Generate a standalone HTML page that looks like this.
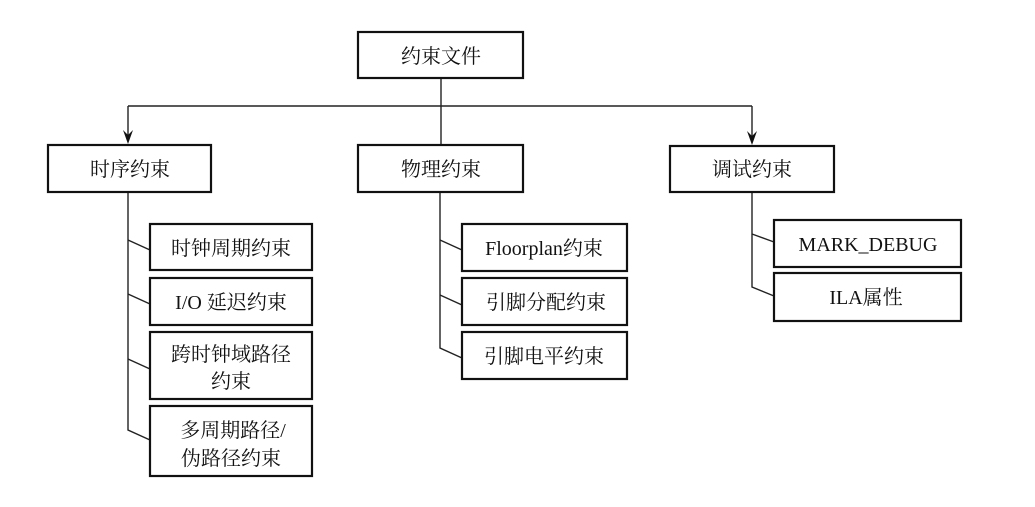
<!DOCTYPE html>
<html><head><meta charset="utf-8"><style>
html,body{margin:0;padding:0;background:#fff}
svg text{font-family:"Liberation Serif","Noto Serif CJK SC","Noto Sans CJK SC",serif;font-size:20px;fill:#111}
</style></head><body>
<svg width="1035" height="502" viewBox="0 0 1035 502" xmlns="http://www.w3.org/2000/svg">
<g fill="none" stroke="#222" stroke-width="1.4">
<line x1="441" y1="78" x2="441" y2="145"/>
<polyline points="128,106 752,106"/>
<line x1="128" y1="106" x2="128" y2="140"/>
<line x1="752" y1="106" x2="752" y2="140"/>
<polyline points="128,192 128,430 150,440"/>
<line x1="128" y1="240" x2="150" y2="250"/>
<line x1="128" y1="294" x2="150" y2="304"/>
<line x1="128" y1="359" x2="150" y2="369"/>
<polyline points="440,192 440,348 462,358"/>
<line x1="440" y1="240" x2="462" y2="250"/>
<line x1="440" y1="295" x2="462" y2="305"/>
<polyline points="752,192 752,287 774,296"/>
<line x1="752" y1="234" x2="774" y2="242"/>
</g>
<g fill="#fff" stroke="#111" stroke-width="2.2">
<rect x="358" y="32" width="165" height="46"/>
<rect x="48" y="145" width="163" height="47"/>
<rect x="358" y="145" width="165" height="47"/>
<rect x="670" y="146" width="164" height="46"/>
<rect x="150" y="224" width="162" height="46"/>
<rect x="150" y="278" width="162" height="47"/>
<rect x="150" y="332" width="162" height="67"/>
<rect x="150" y="406" width="162" height="70"/>
<rect x="462" y="224" width="165" height="47"/>
<rect x="462" y="278" width="165" height="47"/>
<rect x="462" y="332" width="165" height="47"/>
<rect x="774" y="220" width="187" height="47"/>
<rect x="774" y="273" width="187" height="48"/>
</g>
<g fill="#111">
<path d="M123,130 L128,144 L133,130 L128,135 Z"/>
<path d="M747,131 L752,145 L757,131 L752,136 Z"/>
</g>
<g text-anchor="middle">
<text x="441" y="63">约束文件</text>
<text x="130" y="176">时序约束</text>
<text x="441" y="176">物理约束</text>
<text x="752" y="176">调试约束</text>
<text x="231" y="255">时钟周期约束</text>
<text x="231" y="309">I/O 延迟约束</text>
<text x="231" y="361">跨时钟域路径</text>
<text x="231" y="388">约束</text>
<text x="233" y="437">多周期路径/</text>
<text x="231" y="465">伪路径约束</text>
<text x="544" y="255">Floorplan约束</text>
<text x="546" y="309">引脚分配约束</text>
<text x="544" y="363">引脚电平约束</text>
<text x="868" y="251">MARK_DEBUG</text>
<text x="866" y="304">ILA属性</text>
</g>
</svg>
</body></html>
